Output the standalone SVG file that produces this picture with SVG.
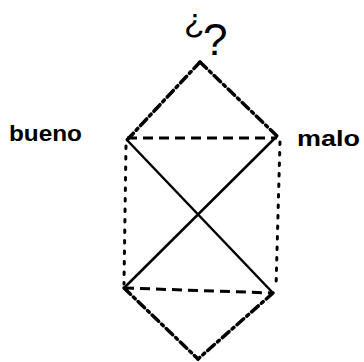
<svg xmlns="http://www.w3.org/2000/svg" width="364" height="362" viewBox="0 0 364 362">
<style>
.lbl{font-family:"Liberation Sans",Arial,sans-serif;font-weight:bold;fill:#000}
.q{font-family:"Liberation Sans",Arial,sans-serif;fill:#000}
.dashdot{stroke:#000;stroke-width:3.5;fill:none;stroke-dasharray:9 4 2.5 4;stroke-linecap:round}
.dash{stroke:#000;stroke-width:3;fill:none;stroke-dasharray:10 6}
.dot{stroke:#000;stroke-width:3;fill:none;stroke-dasharray:2.5 8;stroke-linecap:round}
.solid{stroke:#000;stroke-width:2.5;fill:none}
</style>
<rect width="364" height="362" fill="#fff"/>
<g id="connectors">
<line class="dashdot" x1="200" y1="62" x2="127" y2="140"/>
<line class="dashdot" x1="200" y1="62" x2="277" y2="136"/>
<line class="dash" x1="127" y1="138" x2="277" y2="138"/>
<line class="dot" x1="126" y1="146" x2="124" y2="284"/>
<line class="dot" x1="280" y1="142" x2="276" y2="288"/>
<line class="solid" x1="127" y1="140" x2="273" y2="293"/>
<line class="solid" x1="277" y1="136" x2="124" y2="288"/>
<line class="dash" x1="124" y1="288" x2="273" y2="293"/>
<line class="dashdot" x1="124" y1="288" x2="198" y2="359"/>
<line class="dashdot" x1="273" y1="293" x2="198" y2="359"/>
</g>
<g id="top">
<text class="q" x="184" font-size="34"><tspan y="32">¿</tspan><tspan x="203" y="55" font-size="44">?</tspan></text>
</g>
<g id="bueno"><text class="lbl" x="9" y="141" font-size="22" textLength="73" lengthAdjust="spacingAndGlyphs">bueno</text></g>
<g id="malo"><text class="lbl" x="297" y="146" font-size="22" textLength="63" lengthAdjust="spacingAndGlyphs">malo</text></g>
</svg>
